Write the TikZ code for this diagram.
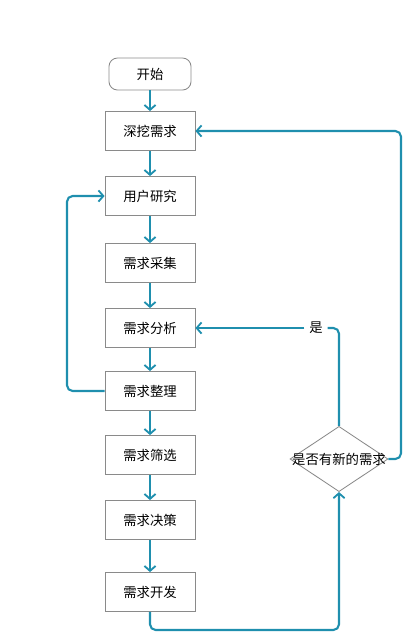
\documentclass[tikz,border=0pt]{standalone}
\usepackage{fontspec}
\setmainfont{Noto Sans CJK SC}
\usetikzlibrary{arrows.meta,shapes.geometric}
\definecolor{flow}{HTML}{1F8FAE}
\definecolor{edge}{HTML}{8A8A8A}
\tikzset{
  stepbox/.style={draw=edge,line width=0.6pt,minimum width=2.25cm,minimum height=0.975cm,font=\fontsize{9.5}{11}\selectfont},
  startbox/.style={stepbox,rounded corners=6pt,minimum width=2.05cm,minimum height=0.8cm},
  askbox/.style={diamond,draw=edge,line width=0.6pt,aspect=1.5,inner sep=0pt,minimum width=2.45cm,minimum height=1.63cm,font=\fontsize{9.5}{11}\selectfont},
  link/.style={draw=flow,line width=1.5pt,rounded corners=4pt,-{Straight Barb[length=3.5pt,width=8pt,line width=1.3pt]}}
}
\begin{document}
\begin{tikzpicture}[x=0.025cm,y=-0.025cm]
\useasboundingbox (0,0) rectangle (405,633);

\node [startbox] (start) at (150,74) {开始};
\node [stepbox] (dig) at (150,131) {深挖需求};
\node [stepbox] (user) at (150,196) {用户研究};
\node [stepbox] (collect) at (150,263) {需求采集};
\node [stepbox] (analyse) at (150,328) {需求分析};
\node [stepbox] (sort) at (150,391) {需求整理};
\node [stepbox] (filter) at (150,455) {需求筛选};
\node [stepbox] (decide) at (150,520) {需求决策};
\node [stepbox] (develop) at (150,592) {需求开发};
% text is wider than the diamond, as in the drawing
\node [askbox] (ask) at (339,459) {\makebox[0pt]{是否有新的需求}};
\node [fill=white,font=\fontsize{9.5}{11}\selectfont] (yes) at (316,328) {是};

\draw [link] (start) -- (dig);
\draw [link] (dig) -- (user);
\draw [link] (user) -- (collect);
\draw [link] (collect) -- (analyse);
\draw [link] (analyse) -- (sort);
\draw [link] (sort) -- (filter);
\draw [link] (filter) -- (decide);
\draw [link] (decide) -- (develop);

\draw [link] (sort.west) -- (67,391) -- (67,196) -- (user.west);
\draw [link] (develop.south) -- (150,630) -- (339,630) -- (ask.south);
\draw [link] (ask.east) -- (401,459) -- (401,131) -- (dig.east);
\draw [draw=flow,line width=1.5pt,rounded corners=4pt] (ask.north) -- (339,328) -- (yes.east);
\draw [link] (yes.west) -- (analyse.east);
\end{tikzpicture}
\end{document}
